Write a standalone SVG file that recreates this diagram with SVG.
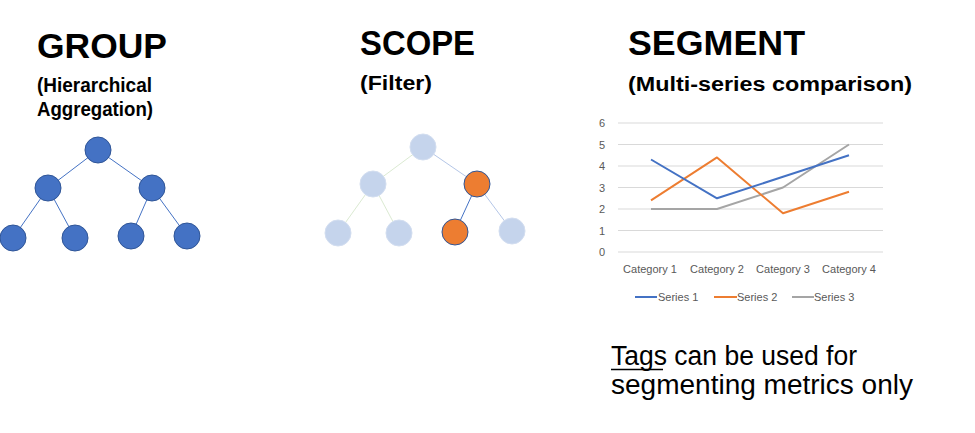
<svg xmlns="http://www.w3.org/2000/svg" width="975" height="433" viewBox="0 0 975 433">
<style>
.title{font-family:"Liberation Sans",Arial,sans-serif;font-weight:bold;font-size:35px;fill:#000}
.sub{font-family:"Liberation Sans",Arial,sans-serif;font-weight:bold;font-size:20px;fill:#000}
.axis{font-family:"Liberation Sans",Arial,sans-serif;font-size:11px;fill:#595959}
.big{font-family:"Liberation Sans",Arial,sans-serif;font-size:27px;fill:#000}
.gnode{fill:#4472c4;stroke:#2f5597;stroke-width:1}
.lnode{fill:#c5d4ec;stroke:#d2ddf0;stroke-width:1}
.onode{fill:#ed7d31;stroke:#2f5597;stroke-width:1}
.grid{stroke:#d9d9d9;stroke-width:1}
.ser{fill:none;stroke-width:2;stroke-linejoin:round}
</style>
<rect width="975" height="433" fill="#fff"/>

<text class="title" x="37" y="58" textLength="130" lengthAdjust="spacingAndGlyphs">GROUP</text>
<text class="sub" x="37" y="92" textLength="115" lengthAdjust="spacingAndGlyphs">(Hierarchical</text>
<text class="sub" x="37" y="116" textLength="116" lengthAdjust="spacingAndGlyphs">Aggregation)</text>

<text class="title" x="360" y="55" textLength="115" lengthAdjust="spacingAndGlyphs">SCOPE</text>
<text class="sub" x="360" y="90" textLength="72" lengthAdjust="spacingAndGlyphs">(Filter)</text>

<text class="title" x="628" y="55" textLength="177" lengthAdjust="spacingAndGlyphs">SEGMENT</text>
<text class="sub" x="628" y="91" textLength="284" lengthAdjust="spacingAndGlyphs">(Multi-series comparison)</text>

<g id="connectors">
  <line x1="98" y1="150" x2="48" y2="188" stroke="#4472c4"/>
  <line x1="98" y1="150" x2="152" y2="188" stroke="#4472c4"/>
  <line x1="48" y1="188" x2="13" y2="238" stroke="#4472c4"/>
  <line x1="48" y1="188" x2="75" y2="238" stroke="#4472c4"/>
  <line x1="152" y1="188" x2="131" y2="236" stroke="#4472c4"/>
  <line x1="152" y1="188" x2="187" y2="236" stroke="#4472c4"/>

  <line x1="423" y1="147" x2="373" y2="184" stroke="#dbead2"/>
  <line x1="423" y1="147" x2="477" y2="184" stroke="#b4c6e7"/>
  <line x1="373" y1="184" x2="338" y2="233" stroke="#dbead2"/>
  <line x1="373" y1="184" x2="399" y2="233" stroke="#dbead2"/>
  <line x1="477" y1="184" x2="455" y2="232" stroke="#4472c4"/>
  <line x1="477" y1="184" x2="512" y2="231" stroke="#b4c6e7"/>
</g>

<g id="g-root"><circle class="gnode" cx="98" cy="150" r="13"/></g>
<g id="g-left"><circle class="gnode" cx="48" cy="188" r="13"/></g>
<g id="g-right"><circle class="gnode" cx="152" cy="188" r="13"/></g>
<g id="g-leaf1"><circle class="gnode" cx="13" cy="238" r="13"/></g>
<g id="g-leaf2"><circle class="gnode" cx="75" cy="238" r="13"/></g>
<g id="g-leaf3"><circle class="gnode" cx="131" cy="236" r="13"/></g>
<g id="g-leaf4"><circle class="gnode" cx="187" cy="236" r="13"/></g>

<g id="s-root"><circle class="lnode" cx="423" cy="147" r="13"/></g>
<g id="s-left"><circle class="lnode" cx="373" cy="184" r="13"/></g>
<g id="s-right"><circle class="onode" cx="477" cy="184" r="13"/></g>
<g id="s-leaf1"><circle class="lnode" cx="338" cy="233" r="13"/></g>
<g id="s-leaf2"><circle class="lnode" cx="399" cy="233" r="13"/></g>
<g id="s-leaf3"><circle class="onode" cx="455" cy="232" r="13"/></g>
<g id="s-leaf4"><circle class="lnode" cx="512" cy="231" r="13"/></g>

<g id="chart">
  <line class="grid" x1="618" y1="123" x2="883" y2="123"/>
  <line class="grid" x1="618" y1="144.5" x2="883" y2="144.5"/>
  <line class="grid" x1="618" y1="166" x2="883" y2="166"/>
  <line class="grid" x1="618" y1="187.5" x2="883" y2="187.5"/>
  <line class="grid" x1="618" y1="209" x2="883" y2="209"/>
  <line class="grid" x1="618" y1="230.5" x2="883" y2="230.5"/>
  <line class="grid" x1="618" y1="252" x2="883" y2="252"/>
  <text class="axis" x="602" y="127" text-anchor="middle">6</text>
  <text class="axis" x="602" y="148.5" text-anchor="middle">5</text>
  <text class="axis" x="602" y="170" text-anchor="middle">4</text>
  <text class="axis" x="602" y="191.5" text-anchor="middle">3</text>
  <text class="axis" x="602" y="213" text-anchor="middle">2</text>
  <text class="axis" x="602" y="234.5" text-anchor="middle">1</text>
  <text class="axis" x="602" y="256" text-anchor="middle">0</text>
  <text class="axis" x="650" y="273" text-anchor="middle">Category 1</text>
  <text class="axis" x="717" y="273" text-anchor="middle">Category 2</text>
  <text class="axis" x="783" y="273" text-anchor="middle">Category 3</text>
  <text class="axis" x="849" y="273" text-anchor="middle">Category 4</text>
  <polyline class="ser" stroke="#a5a5a5" points="651,209 717,209 783,187.5 849,144.5"/>
  <polyline class="ser" stroke="#ed7d31" points="651,200.4 717,157.4 783,213.3 849,191.8"/>
  <polyline class="ser" stroke="#4472c4" points="651,159.5 717,198.3 783,176.8 849,155.3"/>
  <line x1="635" y1="297" x2="657" y2="297" stroke="#4472c4" stroke-width="2"/>
  <text class="axis" x="658" y="301">Series 1</text>
  <line x1="714" y1="297" x2="737" y2="297" stroke="#ed7d31" stroke-width="2"/>
  <text class="axis" x="737" y="301">Series 2</text>
  <line x1="792" y1="297" x2="814" y2="297" stroke="#a5a5a5" stroke-width="2"/>
  <text class="axis" x="814" y="301">Series 3</text>
</g>

<text class="big" x="611" y="365" textLength="246" lengthAdjust="spacingAndGlyphs">Tags can be used for</text>
<line x1="611" y1="369.5" x2="663" y2="369.5" stroke="#000" stroke-width="1.5"/>
<text class="big" x="611" y="394" textLength="302" lengthAdjust="spacingAndGlyphs">segmenting metrics only</text>
</svg>
